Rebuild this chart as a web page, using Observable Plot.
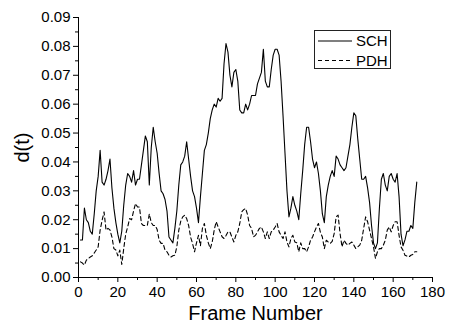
<!DOCTYPE html>
<html>
<head>
<meta charset="utf-8">
<script src="https://cdn.jsdelivr.net/npm/d3@7"></script>
<script src="https://cdn.jsdelivr.net/npm/@observablehq/plot@0.6"></script>
<style>
  html, body { margin: 0; padding: 0; background: #fff; }
  #wrap { position: relative; width: 449px; height: 323px; font-family: "Liberation Sans", Arial, sans-serif; }
  #legend { position: absolute; left: 0; top: 0; pointer-events: none; }
</style>
</head>
<body>
<div id="wrap"></div>
<script>
// Frame numbers 1..172
const frames = d3.range(1, 173);

const sch = [
  0.013, 0.013, 0.024, 0.020, 0.019, 0.016, 0.015, 0.022, 0.030, 0.035,
  0.044, 0.033, 0.032, 0.034, 0.037, 0.041, 0.031, 0.024, 0.019, 0.015,
  0.012, 0.016, 0.025, 0.032, 0.036, 0.035, 0.033, 0.037, 0.032, 0.034,
  0.034, 0.039, 0.044, 0.049, 0.047, 0.032, 0.045, 0.052, 0.047, 0.043,
  0.036, 0.030, 0.029, 0.027, 0.023, 0.014, 0.013, 0.012, 0.017, 0.023,
  0.032, 0.039, 0.040, 0.042, 0.047, 0.041, 0.035, 0.030, 0.028, 0.024,
  0.019, 0.028, 0.036, 0.044, 0.046, 0.050, 0.055, 0.058, 0.060, 0.059,
  0.062, 0.061, 0.062, 0.074, 0.081, 0.078, 0.070, 0.066, 0.071, 0.072,
  0.068, 0.058, 0.057, 0.057, 0.060, 0.058, 0.060, 0.063, 0.063, 0.063,
  0.067, 0.069, 0.071, 0.079, 0.068, 0.066, 0.066, 0.072, 0.077, 0.079,
  0.079, 0.077, 0.068, 0.056, 0.043, 0.030, 0.021, 0.024, 0.028, 0.025,
  0.023, 0.020, 0.029, 0.037, 0.046, 0.052, 0.052, 0.047, 0.041, 0.038,
  0.040, 0.036, 0.030, 0.022, 0.019, 0.028, 0.032, 0.035, 0.037, 0.035,
  0.042, 0.041, 0.039, 0.038, 0.037, 0.038, 0.042, 0.046, 0.052, 0.057,
  0.056, 0.048, 0.041, 0.034, 0.034, 0.035, 0.031, 0.026, 0.018, 0.012,
  0.010, 0.012, 0.024, 0.034, 0.036, 0.032, 0.030, 0.035, 0.036, 0.034,
  0.033, 0.036, 0.028, 0.015, 0.011, 0.013, 0.016, 0.016, 0.018, 0.017,
  0.026, 0.033
];

const pdh = [
  0.0054, 0.0050, 0.0043, 0.0060, 0.0066, 0.0071, 0.0075, 0.0085, 0.0095, 0.0106,
  0.0164, 0.0198, 0.0227, 0.0164, 0.0170, 0.0165, 0.0140, 0.0100, 0.0095, 0.0075,
  0.0095, 0.0045, 0.0100, 0.0150, 0.0175, 0.0204, 0.0200, 0.0230, 0.0256, 0.0244,
  0.0244, 0.0187, 0.0180, 0.0180, 0.0180, 0.0220, 0.0190, 0.0180, 0.0180, 0.0166,
  0.0129, 0.0118, 0.0118, 0.0095, 0.0089, 0.0077, 0.0071, 0.0075, 0.0077, 0.0106,
  0.0164, 0.0195, 0.0210, 0.0216, 0.0204, 0.0180, 0.0140, 0.0118, 0.0089, 0.0120,
  0.0146, 0.0110, 0.0170, 0.0187, 0.0146, 0.0120, 0.0100, 0.0123, 0.0164, 0.0193,
  0.0175, 0.0158, 0.0141, 0.0135, 0.0145, 0.0158, 0.0158, 0.0140, 0.0123, 0.0146,
  0.0158, 0.0187, 0.0227, 0.0235, 0.0239, 0.0216, 0.0180, 0.0170, 0.0141, 0.0146,
  0.0158, 0.0170, 0.0175, 0.0158, 0.0135, 0.0158, 0.0135, 0.0158, 0.0164, 0.0175,
  0.0187, 0.0158, 0.0146, 0.0135, 0.0158, 0.0123, 0.0106, 0.0135, 0.0146, 0.0123,
  0.0120, 0.0089, 0.0120, 0.0100, 0.0100, 0.0089, 0.0106, 0.0129, 0.0140, 0.0158,
  0.0175, 0.0187, 0.0156, 0.0140, 0.0100, 0.0129, 0.0123, 0.0118, 0.0125, 0.0152,
  0.0210, 0.0216, 0.0152, 0.0106, 0.0129, 0.0118, 0.0112, 0.0118, 0.0123, 0.0112,
  0.0100, 0.0106, 0.0112, 0.0129, 0.0170, 0.0210, 0.0193, 0.0164, 0.0135, 0.0106,
  0.0066, 0.0089, 0.0100, 0.0100, 0.0112, 0.0129, 0.0164, 0.0175, 0.0158, 0.0180,
  0.0193, 0.0193, 0.0146, 0.0106, 0.0094, 0.0077, 0.0074, 0.0071, 0.0077, 0.0080,
  0.0089, 0.0089
];

const seriesNames = ["SCH", "PDH"];
const xTicks = [0, 20, 40, 60, 80, 100, 120, 140, 160, 180];
const xMinorTicks = [10, 30, 50, 70, 90, 110, 130, 150, 170];
const yTicks = [0, 0.01, 0.02, 0.03, 0.04, 0.05, 0.06, 0.07, 0.08, 0.09];
const yMinorTicks = [0.005, 0.015, 0.025, 0.035, 0.045, 0.055, 0.065, 0.075, 0.085];
const xLabel = "Frame Number";
const yLabel = "d(t)";

const schData = frames.map((f, i) => ({frame: f, d: sch[i]}));
const pdhData = frames.map((f, i) => ({frame: f, d: pdh[i]}));

const W = 449, H = 323;
const chart = Plot.plot({
  width: W,
  height: H,
  marginLeft: 78,
  marginRight: 17,
  marginTop: 17,
  marginBottom: 46,
  style: {fontFamily: "'Liberation Sans', Arial, sans-serif", fontSize: "15px", color: "#000", background: "#fff", overflow: "visible"},
  x: {domain: [0, 180]},
  y: {domain: [0, 0.09]},
  marks: [
    Plot.axisX({ticks: xTicks, tickSize: 5, tickPadding: 4, tickFormat: d3.format("d"), label: null, fontSize: 15}),
    Plot.axisX({ticks: xMinorTicks, tickSize: 3, fill: "none", label: null}),
    Plot.axisY({ticks: yTicks, tickSize: 5, tickPadding: 3, tickFormat: d3.format(".2f"), label: null, fontSize: 15}),
    Plot.axisY({ticks: yMinorTicks, tickSize: 3, fill: "none", label: null}),
    Plot.ruleX([0], {stroke: "#000"}),
    Plot.ruleY([0], {stroke: "#000"}),
    Plot.line(schData, {x: "frame", y: "d", stroke: "#000", strokeWidth: 1.1}),
    Plot.line(pdhData, {x: "frame", y: "d", stroke: "#000", strokeWidth: 1.1, strokeDasharray: "4,3"}),
    Plot.text([xLabel], {frameAnchor: "bottom", lineAnchor: "middle", textAnchor: "middle", dy: 36, fontSize: 20, fill: "#000"}),
    Plot.text([yLabel], {frameAnchor: "left", lineAnchor: "middle", textAnchor: "middle", dx: -56, rotate: -90, fontSize: 20, fill: "#000"})
  ]
});

const wrap = document.getElementById("wrap");
wrap.appendChild(chart);

// Legend overlay
const ns = "http://www.w3.org/2000/svg";
const leg = document.createElementNS(ns, "svg");
leg.setAttribute("id", "legend");
leg.setAttribute("width", W);
leg.setAttribute("height", H);
const box = document.createElementNS(ns, "rect");
box.setAttribute("x", 314.5); box.setAttribute("y", 30.5);
box.setAttribute("width", 76); box.setAttribute("height", 38);
box.setAttribute("fill", "#fff"); box.setAttribute("stroke", "#222"); box.setAttribute("stroke-width", 1);
leg.appendChild(box);
const dashes = [null, "4,3"];
seriesNames.forEach((name, i) => {
  const yy = 41 + i * 19.5;
  const ln = document.createElementNS(ns, "line");
  ln.setAttribute("x1", 318); ln.setAttribute("x2", 352);
  ln.setAttribute("y1", yy); ln.setAttribute("y2", yy);
  ln.setAttribute("stroke", "#000"); ln.setAttribute("stroke-width", 1.1);
  if (dashes[i]) ln.setAttribute("stroke-dasharray", dashes[i]);
  leg.appendChild(ln);
  const t = document.createElementNS(ns, "text");
  t.setAttribute("x", 356); t.setAttribute("y", yy);
  t.setAttribute("dy", "0.36em");
  t.setAttribute("font-size", 15);
  t.setAttribute("font-family", "'Liberation Sans', Arial, sans-serif");
  t.textContent = name;
  leg.appendChild(t);
});
wrap.appendChild(leg);
</script>
</body>
</html>
